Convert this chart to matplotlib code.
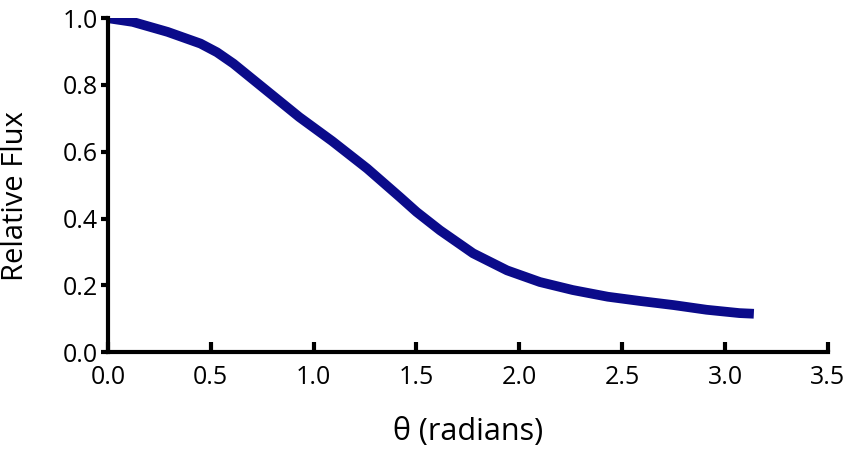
import matplotlib.pyplot as plt

# values
theta = [0.0, 0.12, 0.29, 0.45, 0.53, 0.61, 0.77, 0.93, 1.09, 1.26, 1.42,
         1.5, 1.614, 1.775, 1.94, 2.10, 2.26, 2.43, 2.59, 2.75, 2.91, 3.07, 3.14]
flux = [1.0, 0.989, 0.959, 0.924, 0.898, 0.864, 0.784, 0.704, 0.632, 0.55, 0.464,
        0.42, 0.365, 0.296, 0.245, 0.21, 0.186, 0.166, 0.153, 0.141, 0.127, 0.117, 0.115]

xticks = [0.0, 0.5, 1.0, 1.5, 2.0, 2.5, 3.0, 3.5]
yticks = [0.0, 0.2, 0.4, 0.6, 0.8, 1.0]

plt.rcParams['font.family'] = ['Open Sans', 'DejaVu Sans']

fig = plt.figure(figsize=(8.5, 4.55), dpi=100)
ax = fig.add_axes([0.127, 0.226, 0.847, 0.734])

ax.plot(theta, flux, color='#0b0b8a', lw=7, solid_capstyle='butt',
        solid_joinstyle='round')

ax.set_xlim(0, 3.5)
ax.set_ylim(0, 1.0)
ax.set_xticks(xticks)
ax.set_yticks(yticks)
ax.set_xticklabels([f'{t:.1f}' for t in xticks])
ax.set_yticklabels([f'{t:.1f}' for t in yticks])

for s in ['top', 'right']:
    ax.spines[s].set_visible(False)
for s in ['left', 'bottom']:
    ax.spines[s].set_linewidth(3)

ax.tick_params(axis='x', direction='in', length=7, width=3, labelsize=18, pad=9)
ax.tick_params(axis='y', direction='out', length=5, width=3, labelsize=18, pad=2)

ax.set_xlabel('θ (radians)', fontsize=22, labelpad=20)
# y label placed in figure coords, to the left like the reference
fig.text(16 / 850, 1 - 196 / 455, 'Relative Flux', fontsize=21,
         rotation=90, ha='center', va='center')

fig.savefig('out.png', dpi=100)
